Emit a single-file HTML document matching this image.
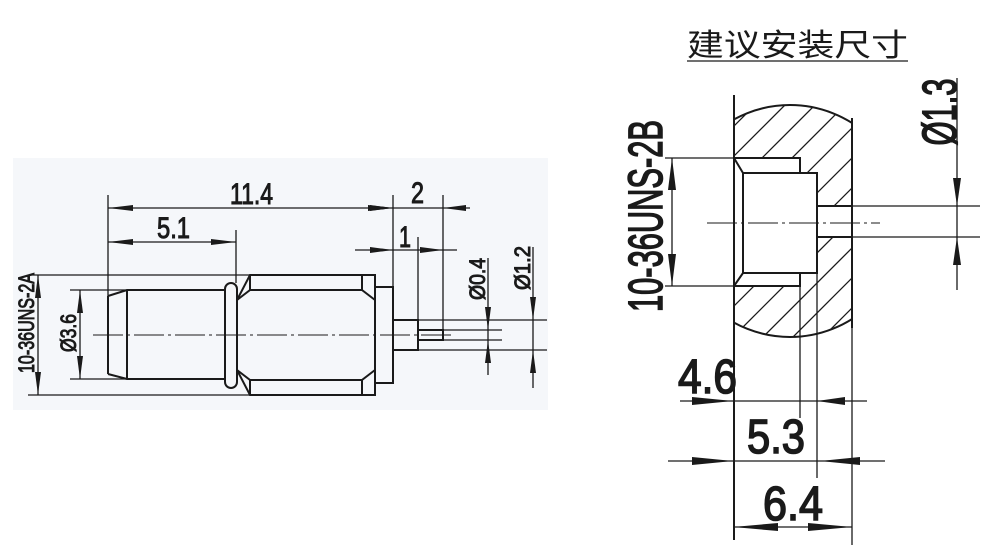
<!DOCTYPE html>
<html><head><meta charset="utf-8"><style>
html,body{margin:0;padding:0;background:#fff;}
svg{display:block;}
.d{font-family:"Liberation Sans",sans-serif;font-weight:normal;fill:#1a1a1a;stroke:#1a1a1a;stroke-width:1;}
.b{stroke-width:1.6;}
</style></head><body>
<svg width="1000" height="554" viewBox="0 0 1000 554" xmlns="http://www.w3.org/2000/svg">
<defs>
<clipPath id="cl"><rect x="734" y="90" width="118" height="260"/></clipPath>
<clipPath id="cc"><circle cx="790" cy="221" r="116"/></clipPath>
</defs>
<rect x="13" y="158" width="535" height="252" fill="#f5f7fa"/>
<g stroke="#1a1a1a" fill="none" stroke-width="1.3">
<line x1="108" y1="195" x2="108" y2="296"/>
<line x1="236" y1="230" x2="236" y2="283"/>
<line x1="393" y1="195" x2="393" y2="287"/>
<line x1="443" y1="195" x2="443" y2="335"/>
<line x1="418" y1="237" x2="418" y2="322"/>
<line x1="108" y1="208" x2="393" y2="208"/>
<line x1="393" y1="208" x2="470" y2="208"/>
<line x1="108" y1="242" x2="236" y2="242"/>
<line x1="355" y1="250" x2="457" y2="250"/>
<line x1="30" y1="275" x2="250" y2="275"/>
<line x1="28" y1="395" x2="250" y2="395"/>
<line x1="38" y1="275" x2="38" y2="395"/>
<line x1="70" y1="290" x2="127" y2="290"/>
<line x1="70" y1="379" x2="127" y2="379"/>
<line x1="80" y1="290" x2="80" y2="379"/>
<line x1="418" y1="320" x2="547" y2="320"/>
<line x1="418" y1="350" x2="547" y2="350"/>
<line x1="443" y1="330" x2="502" y2="330"/>
<line x1="443" y1="340" x2="502" y2="340"/>
<line x1="488" y1="258" x2="488" y2="375"/>
<line x1="533" y1="247" x2="533" y2="388"/>
<g stroke-width="2">
<path d="M108,296 L127,290 L225,290 M108,374 L127,379 L225,379 M108,296 L108,374 M127,290 L127,379"/>
<rect x="225" y="283" width="12" height="105" rx="6"/>
<path d="M237,300 L250,275 L375,275 L375,395 L250,395 L237,370 M237,300 L237,370"/>
<path d="M250,275 L250,290 L237,300 M250,395 L250,380 L237,370"/>
<path d="M250,290 L362,290 M250,380 L362,380 M362,275 L362,290 L375,300 M362,395 L362,380 L375,370"/>
<path d="M375,287 L393,287 L393,383 L375,383"/>
<rect x="393" y="320" width="25" height="30"/>
<rect x="418" y="330" width="25" height="10"/>
</g>
<line x1="93" y1="335" x2="455" y2="335" stroke-width="1" stroke-dasharray="30,4,3,4"/>

<g clip-path="url(#cl)">
<circle cx="790" cy="221" r="116" fill="#fff" stroke-width="2"/>
<g clip-path="url(#cc)" stroke-width="1.3">
<line x1="540" y1="380" x2="840" y2="80"/>
<line x1="570" y1="380" x2="870" y2="80"/>
<line x1="600" y1="380" x2="900" y2="80"/>
<line x1="630" y1="380" x2="930" y2="80"/>
<line x1="660" y1="380" x2="960" y2="80"/>
<line x1="690" y1="380" x2="990" y2="80"/>
<line x1="720" y1="380" x2="1020" y2="80"/>
<line x1="750" y1="380" x2="1050" y2="80"/>
<line x1="780" y1="380" x2="1080" y2="80"/>
<line x1="810" y1="380" x2="1110" y2="80"/>
<line x1="840" y1="380" x2="1140" y2="80"/>
<line x1="510" y1="380" x2="810" y2="80"/>
<line x1="480" y1="380" x2="780" y2="80"/>
</g>
</g>
<g stroke-width="2">
<path d="M734,158 L800,158 L800,286 L734,286" fill="#fff"/>
<rect x="743" y="173" width="74" height="100" fill="#fff"/>
<path d="M734,158 L743,173 M734,286 L743,273"/>
<rect x="817" y="206" width="35" height="31" fill="#fff"/>
<line x1="734" y1="95" x2="734" y2="540"/>
<line x1="852" y1="118" x2="852" y2="328"/>
</g>
<line x1="852" y1="206" x2="980" y2="206"/>
<line x1="852" y1="237" x2="980" y2="237"/>
<line x1="852" y1="328" x2="852" y2="545"/>
<line x1="800" y1="286" x2="800" y2="418"/>
<line x1="817" y1="273" x2="817" y2="478"/>
<line x1="707" y1="223" x2="880" y2="223" stroke-width="1" stroke-dasharray="30,4,3,4"/>
<line x1="665" y1="158" x2="734" y2="158"/>
<line x1="665" y1="286" x2="734" y2="286"/>
<line x1="672" y1="158" x2="672" y2="286"/>
<line x1="957" y1="78" x2="957" y2="290"/>
<line x1="680" y1="401" x2="867" y2="401"/>
<line x1="668" y1="461" x2="885" y2="461"/>
<line x1="733" y1="527" x2="852" y2="527"/>
<line x1="687" y1="61" x2="908" y2="61"/>
</g>
<g fill="#1a1a1a">
<polygon points="108,208 133,205 133,211"/>
<polygon points="393,208 368,205 368,211"/>
<polygon points="393,208 370,205 370,211"/>
<polygon points="443,208 466,205 466,211"/>
<polygon points="108,242 133,239 133,245"/>
<polygon points="236,242 211,239 211,245"/>
<polygon points="393,250 370,247 370,253"/>
<polygon points="443,250 420,247 420,253"/>
<polygon points="38,275 35,298 41,298"/>
<polygon points="38,395 35,372 41,372"/>
<polygon points="80,290 77,313 83,313"/>
<polygon points="80,379 77,356 83,356"/>
<polygon points="488,330 485,307 491,307"/>
<polygon points="488,340 485,363 491,363"/>
<polygon points="533,320 530,297 536,297"/>
<polygon points="533,350 530,373 536,373"/>
<polygon points="672,158 668,190 676,190"/>
<polygon points="672,286 668,254 676,254"/>
<polygon points="957,206 953,178 961,178"/>
<polygon points="957,237 953,265 961,265"/>
<polygon points="733,401 692,397 692,405"/>
<polygon points="817,401 845,397 845,405"/>
<polygon points="733,461 692,457 692,465"/>
<polygon points="820,461 860,457 860,465"/>
<polygon points="733,527 778,523 778,531"/>
<polygon points="852,527 808,523 808,531"/>
</g>
<text class="d" x="230" y="204" font-size="30" textLength="43" lengthAdjust="spacingAndGlyphs">11.4</text>
<text class="d" x="157" y="238" font-size="30" textLength="33" lengthAdjust="spacingAndGlyphs">5.1</text>
<text class="d" x="411" y="203" font-size="30" textLength="13" lengthAdjust="spacingAndGlyphs">2</text>
<text class="d" x="399" y="247" font-size="30" textLength="12" lengthAdjust="spacingAndGlyphs">1</text>
<text class="d" transform="translate(34,323) rotate(-90)" text-anchor="middle" font-size="22" textLength="100" lengthAdjust="spacingAndGlyphs">10-36UNS-2A</text>
<text class="d" transform="translate(76,333) rotate(-90)" text-anchor="middle" font-size="22" textLength="38" lengthAdjust="spacingAndGlyphs">Ø3.6</text>
<text class="d" transform="translate(485,279) rotate(-90)" text-anchor="middle" font-size="22" textLength="42" lengthAdjust="spacingAndGlyphs">Ø0.4</text>
<text class="d" transform="translate(530,268) rotate(-90)" text-anchor="middle" font-size="22" textLength="44" lengthAdjust="spacingAndGlyphs">Ø1.2</text>
<text x="687" y="56" font-family="'Liberation Sans','Noto Sans CJK SC',sans-serif" font-size="31" fill="#1a1a1a" textLength="221" lengthAdjust="spacingAndGlyphs">建议安装尺寸</text>
<text class="d b" transform="translate(662,216) rotate(-90)" text-anchor="middle" font-size="48" textLength="192" lengthAdjust="spacingAndGlyphs">10-36UNS-2B</text>
<text class="d b" transform="translate(956,112) rotate(-90)" text-anchor="middle" font-size="48" textLength="67" lengthAdjust="spacingAndGlyphs">Ø1.3</text>
<text class="d b" x="678" y="393" font-size="48" textLength="59" lengthAdjust="spacingAndGlyphs">4.6</text>
<text class="d b" x="747" y="453" font-size="48" textLength="58" lengthAdjust="spacingAndGlyphs">5.3</text>
<text class="d b" x="763" y="520" font-size="48" textLength="60" lengthAdjust="spacingAndGlyphs">6.4</text>
</svg>
</body></html>
